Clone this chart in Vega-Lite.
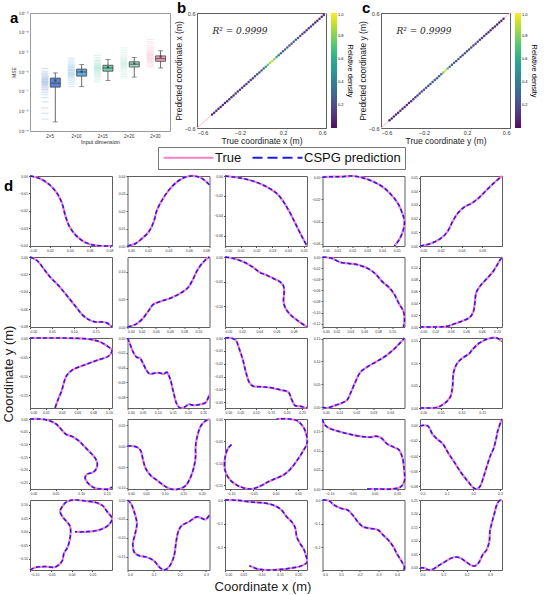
{
  "$schema": "https://vega.github.io/schema/vega-lite/v6.json",
  "padding": {"left": 2, "top": 0, "right": 0, "bottom": 0},
  "background": "white",
  "config": {
    "font": "Liberation Sans",
    "view": {"stroke": "#5f5f5f", "strokeWidth": 1},
    "axis": {"grid": false, "domain": false, "labelColor": "#333", "titleColor": "#222", "tickColor": "#555", "titleFontWeight": "normal"},
    "header": {"titleFontWeight": "normal", "titleColor": "#222"}
  },
  "datasets": {
    "mseStrip": [
      {"dim": "2×5", "mse": 1.5e-6}, {"dim": "2×5", "mse": 1.1e-6}, {"dim": "2×5", "mse": 9e-7}, {"dim": "2×5", "mse": 8e-7}, {"dim": "2×5", "mse": 7e-7}, {"dim": "2×5", "mse": 6.2e-7}, {"dim": "2×5", "mse": 5.5e-7}, {"dim": "2×5", "mse": 5e-7}, {"dim": "2×5", "mse": 4.6e-7}, {"dim": "2×5", "mse": 4.2e-7}, {"dim": "2×5", "mse": 3.9e-7}, {"dim": "2×5", "mse": 3.6e-7}, {"dim": "2×5", "mse": 3.3e-7}, {"dim": "2×5", "mse": 3.1e-7}, {"dim": "2×5", "mse": 2.9e-7}, {"dim": "2×5", "mse": 2.7e-7}, {"dim": "2×5", "mse": 2.5e-7}, {"dim": "2×5", "mse": 2.3e-7}, {"dim": "2×5", "mse": 2.1e-7}, {"dim": "2×5", "mse": 1.9e-7}, {"dim": "2×5", "mse": 1.7e-7}, {"dim": "2×5", "mse": 1.5e-7}, {"dim": "2×5", "mse": 1.3e-7}, {"dim": "2×5", "mse": 1.1e-7}, {"dim": "2×5", "mse": 9e-8}, {"dim": "2×5", "mse": 7e-8}, {"dim": "2×5", "mse": 5e-8}, {"dim": "2×5", "mse": 3e-8}, {"dim": "2×5", "mse": 1.5e-8}, {"dim": "2×5", "mse": 8e-9}, {"dim": "2×5", "mse": 4e-9},
      {"dim": "2×10", "mse": 5e-6}, {"dim": "2×10", "mse": 4e-6}, {"dim": "2×10", "mse": 3.3e-6}, {"dim": "2×10", "mse": 2.8e-6}, {"dim": "2×10", "mse": 2.4e-6}, {"dim": "2×10", "mse": 2.1e-6}, {"dim": "2×10", "mse": 1.9e-6}, {"dim": "2×10", "mse": 1.7e-6}, {"dim": "2×10", "mse": 1.55e-6}, {"dim": "2×10", "mse": 1.4e-6}, {"dim": "2×10", "mse": 1.3e-6}, {"dim": "2×10", "mse": 1.2e-6}, {"dim": "2×10", "mse": 1.1e-6}, {"dim": "2×10", "mse": 1e-6}, {"dim": "2×10", "mse": 9.3e-7}, {"dim": "2×10", "mse": 8.6e-7}, {"dim": "2×10", "mse": 8e-7}, {"dim": "2×10", "mse": 7.4e-7}, {"dim": "2×10", "mse": 6.8e-7}, {"dim": "2×10", "mse": 6.2e-7}, {"dim": "2×10", "mse": 5.6e-7}, {"dim": "2×10", "mse": 5e-7}, {"dim": "2×10", "mse": 4.3e-7}, {"dim": "2×10", "mse": 3.6e-7}, {"dim": "2×10", "mse": 3e-7}, {"dim": "2×10", "mse": 2.4e-7}, {"dim": "2×10", "mse": 1.8e-7},
      {"dim": "2×15", "mse": 7e-6}, {"dim": "2×15", "mse": 5.5e-6}, {"dim": "2×15", "mse": 4.5e-6}, {"dim": "2×15", "mse": 3.8e-6}, {"dim": "2×15", "mse": 3.3e-6}, {"dim": "2×15", "mse": 2.9e-6}, {"dim": "2×15", "mse": 2.6e-6}, {"dim": "2×15", "mse": 2.35e-6}, {"dim": "2×15", "mse": 2.15e-6}, {"dim": "2×15", "mse": 2e-6}, {"dim": "2×15", "mse": 1.85e-6}, {"dim": "2×15", "mse": 1.7e-6}, {"dim": "2×15", "mse": 1.6e-6}, {"dim": "2×15", "mse": 1.5e-6}, {"dim": "2×15", "mse": 1.4e-6}, {"dim": "2×15", "mse": 1.3e-6}, {"dim": "2×15", "mse": 1.2e-6}, {"dim": "2×15", "mse": 1.1e-6}, {"dim": "2×15", "mse": 1e-6}, {"dim": "2×15", "mse": 9e-7}, {"dim": "2×15", "mse": 8e-7}, {"dim": "2×15", "mse": 7e-7}, {"dim": "2×15", "mse": 6e-7}, {"dim": "2×15", "mse": 5e-7}, {"dim": "2×15", "mse": 4e-7}, {"dim": "2×15", "mse": 3.2e-7},
      {"dim": "2×20", "mse": 1.7e-5}, {"dim": "2×20", "mse": 1.3e-5}, {"dim": "2×20", "mse": 1e-5}, {"dim": "2×20", "mse": 8e-6}, {"dim": "2×20", "mse": 6.7e-6}, {"dim": "2×20", "mse": 5.7e-6}, {"dim": "2×20", "mse": 5e-6}, {"dim": "2×20", "mse": 4.4e-6}, {"dim": "2×20", "mse": 4e-6}, {"dim": "2×20", "mse": 3.6e-6}, {"dim": "2×20", "mse": 3.3e-6}, {"dim": "2×20", "mse": 3e-6}, {"dim": "2×20", "mse": 2.8e-6}, {"dim": "2×20", "mse": 2.6e-6}, {"dim": "2×20", "mse": 2.4e-6}, {"dim": "2×20", "mse": 2.2e-6}, {"dim": "2×20", "mse": 2e-6}, {"dim": "2×20", "mse": 1.85e-6}, {"dim": "2×20", "mse": 1.7e-6}, {"dim": "2×20", "mse": 1.5e-6}, {"dim": "2×20", "mse": 1.3e-6}, {"dim": "2×20", "mse": 1.1e-6}, {"dim": "2×20", "mse": 9e-7}, {"dim": "2×20", "mse": 7.5e-7}, {"dim": "2×20", "mse": 6e-7}, {"dim": "2×20", "mse": 5e-7},
      {"dim": "2×30", "mse": 4.5e-5}, {"dim": "2×30", "mse": 3.5e-5}, {"dim": "2×30", "mse": 2.8e-5}, {"dim": "2×30", "mse": 2.2e-5}, {"dim": "2×30", "mse": 1.8e-5}, {"dim": "2×30", "mse": 1.5e-5}, {"dim": "2×30", "mse": 1.3e-5}, {"dim": "2×30", "mse": 1.15e-5}, {"dim": "2×30", "mse": 1e-5}, {"dim": "2×30", "mse": 9e-6}, {"dim": "2×30", "mse": 8.2e-6}, {"dim": "2×30", "mse": 7.5e-6}, {"dim": "2×30", "mse": 6.9e-6}, {"dim": "2×30", "mse": 6.3e-6}, {"dim": "2×30", "mse": 5.8e-6}, {"dim": "2×30", "mse": 5.3e-6}, {"dim": "2×30", "mse": 4.9e-6}, {"dim": "2×30", "mse": 4.5e-6}, {"dim": "2×30", "mse": 4.1e-6}, {"dim": "2×30", "mse": 3.7e-6}, {"dim": "2×30", "mse": 3.3e-6}, {"dim": "2×30", "mse": 2.9e-6}, {"dim": "2×30", "mse": 2.5e-6}, {"dim": "2×30", "mse": 2.1e-6}, {"dim": "2×30", "mse": 1.8e-6}
    ],
    "mseBox": [
      {"dim": "2×5", "lo": 2.9e-9, "q1": 1.7e-7, "med": 2.7e-7, "q3": 4.9e-7, "hi": 9e-7, "mean": 3.7e-7},
      {"dim": "2×10", "lo": 1.8e-7, "q1": 6.2e-7, "med": 1e-6, "q3": 1.4e-6, "hi": 2.4e-6, "mean": 1.05e-6},
      {"dim": "2×15", "lo": 3.7e-7, "q1": 1.1e-6, "med": 1.6e-6, "q3": 2.2e-6, "hi": 4.3e-6, "mean": 1.75e-6},
      {"dim": "2×20", "lo": 5.5e-7, "q1": 1.8e-6, "med": 2.5e-6, "q3": 3.3e-6, "hi": 5.5e-6, "mean": 2.7e-6},
      {"dim": "2×30", "lo": 1.6e-6, "q1": 3.5e-6, "med": 4.8e-6, "q3": 6.6e-6, "hi": 1.2e-5, "mean": 5.9e-6}
    ],
    "diag": [{"t": -0.6}, {"t": 0.6}],
    "fitNote": [{"label": "R² = 0.9999"}],
    "coordX": [
      {"t": -0.46, "d": 0.08}, {"t": -0.44, "d": 0.08}, {"t": -0.42, "d": 0.08}, {"t": -0.4, "d": 0.08}, {"t": -0.38, "d": 0.08}, {"t": -0.36, "d": 0.08}, {"t": -0.34, "d": 0.09}, {"t": -0.32, "d": 0.09}, {"t": -0.3, "d": 0.1},
      {"t": -0.28, "d": 0.12}, {"t": -0.26, "d": 0.12}, {"t": -0.24, "d": 0.12}, {"t": -0.22, "d": 0.13}, {"t": -0.2, "d": 0.13}, {"t": -0.18, "d": 0.13}, {"t": -0.16, "d": 0.14}, {"t": -0.14, "d": 0.14}, {"t": -0.12, "d": 0.15}, {"t": -0.1, "d": 0.15},
      {"t": -0.08, "d": 0.18}, {"t": -0.06, "d": 0.2}, {"t": -0.04, "d": 0.22}, {"t": -0.02, "d": 0.24}, {"t": 0.0, "d": 0.28}, {"t": 0.02, "d": 0.35},
      {"t": 0.04, "d": 0.5}, {"t": 0.06, "d": 0.75}, {"t": 0.08, "d": 0.85}, {"t": 0.1, "d": 0.9}, {"t": 0.12, "d": 0.8}, {"t": 0.14, "d": 0.6}, {"t": 0.16, "d": 0.4},
      {"t": 0.18, "d": 0.32}, {"t": 0.2, "d": 0.3}, {"t": 0.22, "d": 0.3}, {"t": 0.24, "d": 0.28}, {"t": 0.26, "d": 0.27}, {"t": 0.28, "d": 0.26}, {"t": 0.3, "d": 0.25}, {"t": 0.32, "d": 0.24}, {"t": 0.34, "d": 0.23}, {"t": 0.36, "d": 0.22}, {"t": 0.38, "d": 0.2}, {"t": 0.4, "d": 0.18},
      {"t": 0.42, "d": 0.15}, {"t": 0.44, "d": 0.14}, {"t": 0.46, "d": 0.13}, {"t": 0.48, "d": 0.12}, {"t": 0.5, "d": 0.11}, {"t": 0.52, "d": 0.1}, {"t": 0.54, "d": 0.1}, {"t": 0.56, "d": 0.09}, {"t": 0.58, "d": 0.08}
    ],
    "coordY": [
      {"t": -0.52, "d": 0.08}, {"t": -0.5, "d": 0.08}, {"t": -0.48, "d": 0.08}, {"t": -0.46, "d": 0.08}, {"t": -0.44, "d": 0.08}, {"t": -0.42, "d": 0.09}, {"t": -0.4, "d": 0.09}, {"t": -0.38, "d": 0.1}, {"t": -0.36, "d": 0.1}, {"t": -0.34, "d": 0.11}, {"t": -0.32, "d": 0.12}, {"t": -0.3, "d": 0.13},
      {"t": -0.28, "d": 0.16}, {"t": -0.26, "d": 0.17}, {"t": -0.24, "d": 0.18}, {"t": -0.22, "d": 0.19}, {"t": -0.2, "d": 0.2}, {"t": -0.18, "d": 0.21}, {"t": -0.16, "d": 0.22}, {"t": -0.14, "d": 0.23}, {"t": -0.12, "d": 0.24}, {"t": -0.1, "d": 0.25}, {"t": -0.08, "d": 0.27}, {"t": -0.06, "d": 0.3},
      {"t": -0.04, "d": 0.4}, {"t": -0.02, "d": 0.8}, {"t": 0.0, "d": 0.95}, {"t": 0.02, "d": 0.7}, {"t": 0.04, "d": 0.35},
      {"t": 0.06, "d": 0.28}, {"t": 0.08, "d": 0.26}, {"t": 0.1, "d": 0.25}, {"t": 0.12, "d": 0.24}, {"t": 0.14, "d": 0.23}, {"t": 0.16, "d": 0.22}, {"t": 0.18, "d": 0.22}, {"t": 0.2, "d": 0.21}, {"t": 0.22, "d": 0.2}, {"t": 0.24, "d": 0.2}, {"t": 0.26, "d": 0.19}, {"t": 0.28, "d": 0.18}, {"t": 0.3, "d": 0.17},
      {"t": 0.32, "d": 0.14}, {"t": 0.34, "d": 0.13}, {"t": 0.36, "d": 0.12}, {"t": 0.38, "d": 0.12}, {"t": 0.4, "d": 0.11}, {"t": 0.42, "d": 0.1}, {"t": 0.44, "d": 0.1}, {"t": 0.46, "d": 0.09}, {"t": 0.48, "d": 0.09}, {"t": 0.5, "d": 0.08}, {"t": 0.52, "d": 0.08}, {"t": 0.54, "d": 0.08}
    ],
    "paths": [
      {"r": 1, "c": 1, "x": 0, "y": 0}, {"r": 1, "c": 1, "x": 0.0102, "y": -0.0015}, {"r": 1, "c": 1, "x": 0.0197, "y": -0.005}, {"r": 1, "c": 1, "x": 0.0276, "y": -0.0102}, {"r": 1, "c": 1, "x": 0.0324, "y": -0.016}, {"r": 1, "c": 1, "x": 0.0356, "y": -0.0228}, {"r": 1, "c": 1, "x": 0.0394, "y": -0.0286}, {"r": 1, "c": 1, "x": 0.0467, "y": -0.0343}, {"r": 1, "c": 1, "x": 0.0562, "y": -0.0382}, {"r": 1, "c": 1, "x": 0.0673, "y": -0.0398}, {"r": 1, "c": 1, "x": 0.0825, "y": -0.0401},
      {"r": 1, "c": 2, "x": 0, "y": 0}, {"r": 1, "c": 2, "x": 0.0075, "y": 0.0013}, {"r": 1, "c": 2, "x": 0.014, "y": 0.0042}, {"r": 1, "c": 2, "x": 0.0206, "y": 0.008}, {"r": 1, "c": 2, "x": 0.0255, "y": 0.0137}, {"r": 1, "c": 2, "x": 0.0287, "y": 0.0204}, {"r": 1, "c": 2, "x": 0.0336, "y": 0.0261}, {"r": 1, "c": 2, "x": 0.0402, "y": 0.0318}, {"r": 1, "c": 2, "x": 0.0483, "y": 0.0366}, {"r": 1, "c": 2, "x": 0.056, "y": 0.0393}, {"r": 1, "c": 2, "x": 0.062, "y": 0.04}, {"r": 1, "c": 2, "x": 0.068, "y": 0.0397}, {"r": 1, "c": 2, "x": 0.073, "y": 0.0385}, {"r": 1, "c": 2, "x": 0.08, "y": 0.035},
      {"r": 1, "c": 3, "x": 0, "y": 0}, {"r": 1, "c": 3, "x": 0.0096, "y": -0.002}, {"r": 1, "c": 3, "x": 0.0181, "y": -0.0053}, {"r": 1, "c": 3, "x": 0.0266, "y": -0.011}, {"r": 1, "c": 3, "x": 0.033, "y": -0.0177}, {"r": 1, "c": 3, "x": 0.0372, "y": -0.026}, {"r": 1, "c": 3, "x": 0.0415, "y": -0.0377}, {"r": 1, "c": 3, "x": 0.0457, "y": -0.051}, {"r": 1, "c": 3, "x": 0.0489, "y": -0.061}, {"r": 1, "c": 3, "x": 0.0521, "y": -0.0705},
      {"r": 1, "c": 4, "x": 0, "y": 0}, {"r": 1, "c": 4, "x": 0.0064, "y": 0.0004}, {"r": 1, "c": 4, "x": 0.0132, "y": 0.0004}, {"r": 1, "c": 4, "x": 0.02, "y": 0.001}, {"r": 1, "c": 4, "x": 0.0268, "y": -0.0005}, {"r": 1, "c": 4, "x": 0.0336, "y": -0.0037}, {"r": 1, "c": 4, "x": 0.0405, "y": -0.0087}, {"r": 1, "c": 4, "x": 0.0461, "y": -0.0155}, {"r": 1, "c": 4, "x": 0.0507, "y": -0.0234}, {"r": 1, "c": 4, "x": 0.0541, "y": -0.0337}, {"r": 1, "c": 4, "x": 0.0552, "y": -0.0396}, {"r": 1, "c": 4, "x": 0.0545, "y": -0.0469}, {"r": 1, "c": 4, "x": 0.0518, "y": -0.0557}, {"r": 1, "c": 4, "x": 0.0484, "y": -0.0618},
      {"r": 1, "c": 5, "x": 0, "y": 0}, {"r": 1, "c": 5, "x": 0.0098, "y": 0.0017}, {"r": 1, "c": 5, "x": 0.0197, "y": 0.0054}, {"r": 1, "c": 5, "x": 0.0262, "y": 0.0102}, {"r": 1, "c": 5, "x": 0.0312, "y": 0.0176}, {"r": 1, "c": 5, "x": 0.0361, "y": 0.0237}, {"r": 1, "c": 5, "x": 0.0426, "y": 0.0285}, {"r": 1, "c": 5, "x": 0.0492, "y": 0.031}, {"r": 1, "c": 5, "x": 0.0557, "y": 0.0346}, {"r": 1, "c": 5, "x": 0.0623, "y": 0.0395}, {"r": 1, "c": 5, "x": 0.0705, "y": 0.0456}, {"r": 1, "c": 5, "x": 0.079, "y": 0.0512},
      {"r": 2, "c": 1, "x": 0, "y": 0}, {"r": 2, "c": 1, "x": 0.0167, "y": -0.0043}, {"r": 2, "c": 1, "x": 0.0318, "y": -0.014}, {"r": 2, "c": 1, "x": 0.047, "y": -0.0237}, {"r": 2, "c": 1, "x": 0.0659, "y": -0.0334}, {"r": 2, "c": 1, "x": 0.0849, "y": -0.045}, {"r": 2, "c": 1, "x": 0.1038, "y": -0.0567}, {"r": 2, "c": 1, "x": 0.119, "y": -0.0664}, {"r": 2, "c": 1, "x": 0.1342, "y": -0.0722}, {"r": 2, "c": 1, "x": 0.1493, "y": -0.0749}, {"r": 2, "c": 1, "x": 0.1645, "y": -0.0749}, {"r": 2, "c": 1, "x": 0.1759, "y": -0.0761}, {"r": 2, "c": 1, "x": 0.1872, "y": -0.0807},
      {"r": 2, "c": 2, "x": 0, "y": 0}, {"r": 2, "c": 2, "x": 0.0107, "y": 0.0043}, {"r": 2, "c": 2, "x": 0.0201, "y": 0.0134}, {"r": 2, "c": 2, "x": 0.0294, "y": 0.0287}, {"r": 2, "c": 2, "x": 0.0364, "y": 0.0409}, {"r": 2, "c": 2, "x": 0.0481, "y": 0.047}, {"r": 2, "c": 2, "x": 0.0621, "y": 0.0531}, {"r": 2, "c": 2, "x": 0.0761, "y": 0.0622}, {"r": 2, "c": 2, "x": 0.0855, "y": 0.0714}, {"r": 2, "c": 2, "x": 0.0925, "y": 0.0866}, {"r": 2, "c": 2, "x": 0.0995, "y": 0.1049}, {"r": 2, "c": 2, "x": 0.1088, "y": 0.1202}, {"r": 2, "c": 2, "x": 0.1158, "y": 0.1269},
      {"r": 2, "c": 3, "x": 0, "y": 0}, {"r": 2, "c": 3, "x": 0.0094, "y": -0.0027}, {"r": 2, "c": 3, "x": 0.0212, "y": -0.0096}, {"r": 2, "c": 3, "x": 0.0329, "y": -0.0212}, {"r": 2, "c": 3, "x": 0.0408, "y": -0.0315}, {"r": 2, "c": 3, "x": 0.0486, "y": -0.037}, {"r": 2, "c": 3, "x": 0.0565, "y": -0.0438}, {"r": 2, "c": 3, "x": 0.0643, "y": -0.0507}, {"r": 2, "c": 3, "x": 0.0682, "y": -0.0589}, {"r": 2, "c": 3, "x": 0.069, "y": -0.0726}, {"r": 2, "c": 3, "x": 0.0682, "y": -0.0897}, {"r": 2, "c": 3, "x": 0.0702, "y": -0.1034}, {"r": 2, "c": 3, "x": 0.076, "y": -0.1171}, {"r": 2, "c": 3, "x": 0.0858, "y": -0.1308}, {"r": 2, "c": 3, "x": 0.0956, "y": -0.1425},
      {"r": 2, "c": 4, "x": 0, "y": 0}, {"r": 2, "c": 4, "x": 0.0136, "y": -0.0024}, {"r": 2, "c": 4, "x": 0.0257, "y": -0.0097}, {"r": 2, "c": 4, "x": 0.0378, "y": -0.0115}, {"r": 2, "c": 4, "x": 0.0524, "y": -0.0145}, {"r": 2, "c": 4, "x": 0.0669, "y": -0.0218}, {"r": 2, "c": 4, "x": 0.0766, "y": -0.0309}, {"r": 2, "c": 4, "x": 0.0863, "y": -0.0448}, {"r": 2, "c": 4, "x": 0.096, "y": -0.0552}, {"r": 2, "c": 4, "x": 0.1033, "y": -0.0673}, {"r": 2, "c": 4, "x": 0.1106, "y": -0.0854}, {"r": 2, "c": 4, "x": 0.1164, "y": -0.0976}, {"r": 2, "c": 4, "x": 0.1179, "y": -0.1127}, {"r": 2, "c": 4, "x": 0.1164, "y": -0.126},
      {"r": 2, "c": 5, "x": 0, "y": 0}, {"r": 2, "c": 5, "x": 0.0174, "y": 0}, {"r": 2, "c": 5, "x": 0.0348, "y": 0.0011}, {"r": 2, "c": 5, "x": 0.0457, "y": 0.0057}, {"r": 2, "c": 5, "x": 0.0566, "y": 0.0108}, {"r": 2, "c": 5, "x": 0.0653, "y": 0.017}, {"r": 2, "c": 5, "x": 0.0696, "y": 0.0267}, {"r": 2, "c": 5, "x": 0.0713, "y": 0.0409}, {"r": 2, "c": 5, "x": 0.0731, "y": 0.0579}, {"r": 2, "c": 5, "x": 0.0783, "y": 0.0693}, {"r": 2, "c": 5, "x": 0.087, "y": 0.0818}, {"r": 2, "c": 5, "x": 0.0957, "y": 0.0949}, {"r": 2, "c": 5, "x": 0.1022, "y": 0.1091}, {"r": 2, "c": 5, "x": 0.1066, "y": 0.1181},
      {"r": 3, "c": 1, "x": 0, "y": 0}, {"r": 3, "c": 1, "x": 0.017, "y": 0}, {"r": 3, "c": 1, "x": 0.0382, "y": 0}, {"r": 3, "c": 1, "x": 0.0594, "y": -0.0009}, {"r": 3, "c": 1, "x": 0.0763, "y": -0.0035}, {"r": 3, "c": 1, "x": 0.089, "y": -0.0105}, {"r": 3, "c": 1, "x": 0.0996, "y": -0.0237}, {"r": 3, "c": 1, "x": 0.1039, "y": -0.0324}, {"r": 3, "c": 1, "x": 0.0996, "y": -0.0474}, {"r": 3, "c": 1, "x": 0.0848, "y": -0.0588}, {"r": 3, "c": 1, "x": 0.0678, "y": -0.0719}, {"r": 3, "c": 1, "x": 0.053, "y": -0.0851}, {"r": 3, "c": 1, "x": 0.0466, "y": -0.0982}, {"r": 3, "c": 1, "x": 0.0432, "y": -0.1158}, {"r": 3, "c": 1, "x": 0.0403, "y": -0.1377}, {"r": 3, "c": 1, "x": 0.036, "y": -0.1596}, {"r": 3, "c": 1, "x": 0.0318, "y": -0.1842},
      {"r": 3, "c": 2, "x": 0, "y": 0}, {"r": 3, "c": 2, "x": 0.0078, "y": -0.0077}, {"r": 3, "c": 2, "x": 0.0189, "y": -0.0191}, {"r": 3, "c": 2, "x": 0.03, "y": -0.0259}, {"r": 3, "c": 2, "x": 0.0411, "y": -0.0273}, {"r": 3, "c": 2, "x": 0.0522, "y": -0.035}, {"r": 3, "c": 2, "x": 0.0633, "y": -0.0441}, {"r": 3, "c": 2, "x": 0.0744, "y": -0.0487}, {"r": 3, "c": 2, "x": 0.0911, "y": -0.0473}, {"r": 3, "c": 2, "x": 0.1077, "y": -0.0473}, {"r": 3, "c": 2, "x": 0.1188, "y": -0.0487}, {"r": 3, "c": 2, "x": 0.1299, "y": -0.0464}, {"r": 3, "c": 2, "x": 0.141, "y": -0.0555}, {"r": 3, "c": 2, "x": 0.1521, "y": -0.0737}, {"r": 3, "c": 2, "x": 0.1632, "y": -0.0896}, {"r": 3, "c": 2, "x": 0.1743, "y": -0.0946}, {"r": 3, "c": 2, "x": 0.191, "y": -0.0928}, {"r": 3, "c": 2, "x": 0.2021, "y": -0.0896}, {"r": 3, "c": 2, "x": 0.2188, "y": -0.091}, {"r": 3, "c": 2, "x": 0.241, "y": -0.0896}, {"r": 3, "c": 2, "x": 0.2577, "y": -0.0874}, {"r": 3, "c": 2, "x": 0.271, "y": -0.076},
      {"r": 3, "c": 3, "x": 0, "y": 0}, {"r": 3, "c": 3, "x": 0.0187, "y": 0}, {"r": 3, "c": 3, "x": 0.0352, "y": -0.0018}, {"r": 3, "c": 3, "x": 0.0462, "y": -0.0084}, {"r": 3, "c": 3, "x": 0.0572, "y": -0.0163}, {"r": 3, "c": 3, "x": 0.0682, "y": -0.0268}, {"r": 3, "c": 3, "x": 0.0792, "y": -0.0347}, {"r": 3, "c": 3, "x": 0.0902, "y": -0.0373}, {"r": 3, "c": 3, "x": 0.1177, "y": -0.0379}, {"r": 3, "c": 3, "x": 0.1507, "y": -0.0387}, {"r": 3, "c": 3, "x": 0.1837, "y": -0.0405}, {"r": 3, "c": 3, "x": 0.2057, "y": -0.0421}, {"r": 3, "c": 3, "x": 0.2167, "y": -0.0479}, {"r": 3, "c": 3, "x": 0.2277, "y": -0.0526}, {"r": 3, "c": 3, "x": 0.2442, "y": -0.0531}, {"r": 3, "c": 3, "x": 0.2662, "y": -0.0544},
      {"r": 3, "c": 4, "x": 0, "y": 0}, {"r": 3, "c": 4, "x": 0.0024, "y": -0.0015}, {"r": 3, "c": 4, "x": 0.0064, "y": 0.0029}, {"r": 3, "c": 4, "x": 0.0104, "y": 0.008}, {"r": 3, "c": 4, "x": 0.0144, "y": 0.0153}, {"r": 3, "c": 4, "x": 0.0164, "y": 0.0298}, {"r": 3, "c": 4, "x": 0.0194, "y": 0.0553}, {"r": 3, "c": 4, "x": 0.0224, "y": 0.0771}, {"r": 3, "c": 4, "x": 0.0264, "y": 0.088}, {"r": 3, "c": 4, "x": 0.0314, "y": 0.0989}, {"r": 3, "c": 4, "x": 0.0364, "y": 0.1098}, {"r": 3, "c": 4, "x": 0.0414, "y": 0.1243}, {"r": 3, "c": 4, "x": 0.0454, "y": 0.1389}, {"r": 3, "c": 4, "x": 0.0484, "y": 0.1512},
      {"r": 3, "c": 5, "x": 0, "y": 0}, {"r": 3, "c": 5, "x": 0.0183, "y": 0}, {"r": 3, "c": 5, "x": 0.0392, "y": 0.0008}, {"r": 3, "c": 5, "x": 0.0558, "y": 0.0079}, {"r": 3, "c": 5, "x": 0.0725, "y": 0.0238}, {"r": 3, "c": 5, "x": 0.0783, "y": 0.0476}, {"r": 3, "c": 5, "x": 0.0808, "y": 0.0794}, {"r": 3, "c": 5, "x": 0.0891, "y": 0.0993}, {"r": 3, "c": 5, "x": 0.1016, "y": 0.1112}, {"r": 3, "c": 5, "x": 0.1183, "y": 0.1215}, {"r": 3, "c": 5, "x": 0.1266, "y": 0.131}, {"r": 3, "c": 5, "x": 0.1433, "y": 0.1453}, {"r": 3, "c": 5, "x": 0.1641, "y": 0.1548}, {"r": 3, "c": 5, "x": 0.1849, "y": 0.1564}, {"r": 3, "c": 5, "x": 0.1975, "y": 0.1485},
      {"r": 4, "c": 1, "x": 0, "y": 0}, {"r": 4, "c": 1, "x": 0.0192, "y": 0}, {"r": 4, "c": 1, "x": 0.0385, "y": -0.0067}, {"r": 4, "c": 1, "x": 0.0513, "y": -0.02}, {"r": 4, "c": 1, "x": 0.0609, "y": -0.04}, {"r": 4, "c": 1, "x": 0.0705, "y": -0.06}, {"r": 4, "c": 1, "x": 0.0833, "y": -0.0693}, {"r": 4, "c": 1, "x": 0.0962, "y": -0.0867}, {"r": 4, "c": 1, "x": 0.1058, "y": -0.1067}, {"r": 4, "c": 1, "x": 0.1154, "y": -0.1267}, {"r": 4, "c": 1, "x": 0.125, "y": -0.1467}, {"r": 4, "c": 1, "x": 0.1314, "y": -0.1707}, {"r": 4, "c": 1, "x": 0.1301, "y": -0.1933}, {"r": 4, "c": 1, "x": 0.1231, "y": -0.2093}, {"r": 4, "c": 1, "x": 0.1122, "y": -0.216}, {"r": 4, "c": 1, "x": 0.1077, "y": -0.2293}, {"r": 4, "c": 1, "x": 0.1122, "y": -0.2493}, {"r": 4, "c": 1, "x": 0.125, "y": -0.2693}, {"r": 4, "c": 1, "x": 0.1378, "y": -0.2747}, {"r": 4, "c": 1, "x": 0.1538, "y": -0.2747}, {"r": 4, "c": 1, "x": 0.1603, "y": -0.2667},
      {"r": 4, "c": 2, "x": 0, "y": 0}, {"r": 4, "c": 2, "x": 0.0134, "y": 0}, {"r": 4, "c": 2, "x": 0.0268, "y": -0.0032}, {"r": 4, "c": 2, "x": 0.0357, "y": -0.0113}, {"r": 4, "c": 2, "x": 0.042, "y": -0.0339}, {"r": 4, "c": 2, "x": 0.0491, "y": -0.054}, {"r": 4, "c": 2, "x": 0.0625, "y": -0.0702}, {"r": 4, "c": 2, "x": 0.0804, "y": -0.0822}, {"r": 4, "c": 2, "x": 0.0982, "y": -0.0943}, {"r": 4, "c": 2, "x": 0.1161, "y": -0.1024}, {"r": 4, "c": 2, "x": 0.1384, "y": -0.1024}, {"r": 4, "c": 2, "x": 0.1563, "y": -0.0943}, {"r": 4, "c": 2, "x": 0.1697, "y": -0.0742}, {"r": 4, "c": 2, "x": 0.1786, "y": -0.05}, {"r": 4, "c": 2, "x": 0.1831, "y": -0.0258}, {"r": 4, "c": 2, "x": 0.1831, "y": -0.0016}, {"r": 4, "c": 2, "x": 0.1875, "y": 0.0226}, {"r": 4, "c": 2, "x": 0.1964, "y": 0.0467}, {"r": 4, "c": 2, "x": 0.208, "y": 0.0588}, {"r": 4, "c": 2, "x": 0.2205, "y": 0.0645},
      {"r": 4, "c": 3, "x": -0.0977, "y": -0.0577}, {"r": 4, "c": 3, "x": -0.1061, "y": -0.0677}, {"r": 4, "c": 3, "x": -0.1121, "y": -0.0885}, {"r": 4, "c": 3, "x": -0.1121, "y": -0.1154}, {"r": 4, "c": 3, "x": -0.1015, "y": -0.1369}, {"r": 4, "c": 3, "x": -0.081, "y": -0.1523}, {"r": 4, "c": 3, "x": -0.0545, "y": -0.1585}, {"r": 4, "c": 3, "x": -0.0318, "y": -0.1508}, {"r": 4, "c": 3, "x": -0.0182, "y": -0.1431}, {"r": 4, "c": 3, "x": -0.0015, "y": -0.1354}, {"r": 4, "c": 3, "x": 0.0175, "y": -0.1269}, {"r": 4, "c": 3, "x": 0.0326, "y": -0.1138}, {"r": 4, "c": 3, "x": 0.0478, "y": -0.0938}, {"r": 4, "c": 3, "x": 0.0607, "y": -0.0731}, {"r": 4, "c": 3, "x": 0.0697, "y": -0.0554}, {"r": 4, "c": 3, "x": 0.0682, "y": -0.0346}, {"r": 4, "c": 3, "x": 0.0607, "y": -0.0169}, {"r": 4, "c": 3, "x": 0.0478, "y": -0.0038}, {"r": 4, "c": 3, "x": 0.0289, "y": 0}, {"r": 4, "c": 3, "x": 0.0023, "y": 0},
      {"r": 4, "c": 4, "x": -0.1154, "y": 0.1821}, {"r": 4, "c": 4, "x": -0.1108, "y": 0.167}, {"r": 4, "c": 4, "x": -0.1, "y": 0.158}, {"r": 4, "c": 4, "x": -0.0769, "y": 0.1491}, {"r": 4, "c": 4, "x": -0.0462, "y": 0.1402}, {"r": 4, "c": 4, "x": -0.0231, "y": 0.1357}, {"r": 4, "c": 4, "x": -0.0077, "y": 0.1348}, {"r": 4, "c": 4, "x": 0.0038, "y": 0.1375}, {"r": 4, "c": 4, "x": 0.0154, "y": 0.1321}, {"r": 4, "c": 4, "x": 0.0269, "y": 0.1179}, {"r": 4, "c": 4, "x": 0.0423, "y": 0.1089}, {"r": 4, "c": 4, "x": 0.0538, "y": 0.1018}, {"r": 4, "c": 4, "x": 0.0615, "y": 0.0821}, {"r": 4, "c": 4, "x": 0.0654, "y": 0.0509}, {"r": 4, "c": 4, "x": 0.0662, "y": 0.0214}, {"r": 4, "c": 4, "x": 0.0577, "y": 0.0054}, {"r": 4, "c": 4, "x": 0.0385, "y": 0}, {"r": 4, "c": 4, "x": 0.0077, "y": 0}, {"r": 4, "c": 4, "x": -0.0169, "y": 0},
      {"r": 4, "c": 5, "x": 0, "y": 0}, {"r": 4, "c": 5, "x": 0.0291, "y": 0}, {"r": 4, "c": 5, "x": 0.0481, "y": -0.0118}, {"r": 4, "c": 5, "x": 0.0671, "y": -0.0182}, {"r": 4, "c": 5, "x": 0.0861, "y": -0.0241}, {"r": 4, "c": 5, "x": 0.1051, "y": -0.0355}, {"r": 4, "c": 5, "x": 0.1304, "y": -0.0491}, {"r": 4, "c": 5, "x": 0.1557, "y": -0.0628}, {"r": 4, "c": 5, "x": 0.181, "y": -0.0742}, {"r": 4, "c": 5, "x": 0.2, "y": -0.0819}, {"r": 4, "c": 5, "x": 0.2127, "y": -0.0837}, {"r": 4, "c": 5, "x": 0.2253, "y": -0.0801}, {"r": 4, "c": 5, "x": 0.238, "y": -0.0682}, {"r": 4, "c": 5, "x": 0.2507, "y": -0.0537}, {"r": 4, "c": 5, "x": 0.2633, "y": -0.04}, {"r": 4, "c": 5, "x": 0.276, "y": -0.03}, {"r": 4, "c": 5, "x": 0.2848, "y": -0.0182}, {"r": 4, "c": 5, "x": 0.2924, "y": -0.0059}, {"r": 4, "c": 5, "x": 0.3076, "y": 0.0091},
      {"r": 5, "c": 1, "x": -0.1, "y": -0.1413}, {"r": 5, "c": 1, "x": -0.0857, "y": -0.1313}, {"r": 5, "c": 1, "x": -0.0619, "y": -0.1288}, {"r": 5, "c": 1, "x": -0.0421, "y": -0.1313}, {"r": 5, "c": 1, "x": -0.0302, "y": -0.1213}, {"r": 5, "c": 1, "x": -0.0222, "y": -0.1063}, {"r": 5, "c": 1, "x": -0.0183, "y": -0.0788}, {"r": 5, "c": 1, "x": -0.0103, "y": -0.0588}, {"r": 5, "c": 1, "x": -0.0048, "y": -0.0313}, {"r": 5, "c": 1, "x": -0.0024, "y": 0}, {"r": 5, "c": 1, "x": -0.004, "y": 0.0213}, {"r": 5, "c": 1, "x": -0.0119, "y": 0.0375}, {"r": 5, "c": 1, "x": -0.0222, "y": 0.0563}, {"r": 5, "c": 1, "x": -0.0278, "y": 0.075}, {"r": 5, "c": 1, "x": -0.0222, "y": 0.0938}, {"r": 5, "c": 1, "x": -0.0103, "y": 0.1125}, {"r": 5, "c": 1, "x": 0.0095, "y": 0.1175}, {"r": 5, "c": 1, "x": 0.0333, "y": 0.1138}, {"r": 5, "c": 1, "x": 0.0572, "y": 0.1088}, {"r": 5, "c": 1, "x": 0.0746, "y": 0.0963}, {"r": 5, "c": 1, "x": 0.085, "y": 0.075}, {"r": 5, "c": 1, "x": 0.0969, "y": 0.05}, {"r": 5, "c": 1, "x": 0.0889, "y": 0.025}, {"r": 5, "c": 1, "x": 0.0651, "y": 0.0063}, {"r": 5, "c": 1, "x": 0.0333, "y": 0}, {"r": 5, "c": 1, "x": 0.0079, "y": 0},
      {"r": 5, "c": 2, "x": 0, "y": 0}, {"r": 5, "c": 2, "x": 0.0128, "y": -0.0089}, {"r": 5, "c": 2, "x": 0.0256, "y": -0.0313}, {"r": 5, "c": 2, "x": 0.0359, "y": -0.0625}, {"r": 5, "c": 2, "x": 0.0294, "y": -0.0893}, {"r": 5, "c": 2, "x": 0.0205, "y": -0.1161}, {"r": 5, "c": 2, "x": 0.0256, "y": -0.1384}, {"r": 5, "c": 2, "x": 0.0423, "y": -0.1473}, {"r": 5, "c": 2, "x": 0.0743, "y": -0.1518}, {"r": 5, "c": 2, "x": 0.0999, "y": -0.1607}, {"r": 5, "c": 2, "x": 0.1254, "y": -0.1804}, {"r": 5, "c": 2, "x": 0.1408, "y": -0.1857}, {"r": 5, "c": 2, "x": 0.1574, "y": -0.1786}, {"r": 5, "c": 2, "x": 0.1766, "y": -0.1518}, {"r": 5, "c": 2, "x": 0.1869, "y": -0.1071}, {"r": 5, "c": 2, "x": 0.1958, "y": -0.0804}, {"r": 5, "c": 2, "x": 0.2086, "y": -0.067}, {"r": 5, "c": 2, "x": 0.2342, "y": -0.058}, {"r": 5, "c": 2, "x": 0.2662, "y": -0.0446}, {"r": 5, "c": 2, "x": 0.2854, "y": -0.0491}, {"r": 5, "c": 2, "x": 0.2982, "y": -0.0518}, {"r": 5, "c": 2, "x": 0.3136, "y": -0.0402},
      {"r": 5, "c": 3, "x": 0, "y": 0}, {"r": 5, "c": 3, "x": 0.0343, "y": -0.0014}, {"r": 5, "c": 3, "x": 0.0713, "y": -0.0086}, {"r": 5, "c": 3, "x": 0.1083, "y": -0.0129}, {"r": 5, "c": 3, "x": 0.1361, "y": -0.0243}, {"r": 5, "c": 3, "x": 0.1546, "y": -0.0429}, {"r": 5, "c": 3, "x": 0.1685, "y": -0.0714}, {"r": 5, "c": 3, "x": 0.1824, "y": -0.0929}, {"r": 5, "c": 3, "x": 0.1917, "y": -0.1171}, {"r": 5, "c": 3, "x": 0.1963, "y": -0.1571}, {"r": 5, "c": 3, "x": 0.2056, "y": -0.1857}, {"r": 5, "c": 3, "x": 0.2148, "y": -0.2071}, {"r": 5, "c": 3, "x": 0.2213, "y": -0.2357}, {"r": 5, "c": 3, "x": 0.2241, "y": -0.2643}, {"r": 5, "c": 3, "x": 0.2102, "y": -0.2786}, {"r": 5, "c": 3, "x": 0.1824, "y": -0.2886}, {"r": 5, "c": 3, "x": 0.1546, "y": -0.2943}, {"r": 5, "c": 3, "x": 0.1269, "y": -0.2971}, {"r": 5, "c": 3, "x": 0.0898, "y": -0.2929}, {"r": 5, "c": 3, "x": 0.0667, "y": -0.2786},
      {"r": 5, "c": 4, "x": 0, "y": 0}, {"r": 5, "c": 4, "x": 0.0345, "y": -0.0028}, {"r": 5, "c": 4, "x": 0.0618, "y": -0.0211}, {"r": 5, "c": 4, "x": 0.0982, "y": -0.0352}, {"r": 5, "c": 4, "x": 0.1345, "y": -0.0423}, {"r": 5, "c": 4, "x": 0.1618, "y": -0.0634}, {"r": 5, "c": 4, "x": 0.1891, "y": -0.0915}, {"r": 5, "c": 4, "x": 0.2164, "y": -0.1127}, {"r": 5, "c": 4, "x": 0.2527, "y": -0.1197}, {"r": 5, "c": 4, "x": 0.2982, "y": -0.1268}, {"r": 5, "c": 4, "x": 0.3255, "y": -0.1479}, {"r": 5, "c": 4, "x": 0.3527, "y": -0.169}, {"r": 5, "c": 4, "x": 0.38, "y": -0.1972}, {"r": 5, "c": 4, "x": 0.3982, "y": -0.2254}, {"r": 5, "c": 4, "x": 0.4255, "y": -0.2606}, {"r": 5, "c": 4, "x": 0.44, "y": -0.2845}, {"r": 5, "c": 4, "x": 0.4345, "y": -0.2958},
      {"r": 5, "c": 5, "x": 0, "y": 0}, {"r": 5, "c": 5, "x": 0.0186, "y": 0}, {"r": 5, "c": 5, "x": 0.0372, "y": -0.0076}, {"r": 5, "c": 5, "x": 0.0543, "y": -0.0051}, {"r": 5, "c": 5, "x": 0.0829, "y": 0.0102}, {"r": 5, "c": 5, "x": 0.1115, "y": 0.0254}, {"r": 5, "c": 5, "x": 0.133, "y": 0.0356}, {"r": 5, "c": 5, "x": 0.1544, "y": 0.0406}, {"r": 5, "c": 5, "x": 0.1759, "y": 0.0356}, {"r": 5, "c": 5, "x": 0.1973, "y": 0.0229}, {"r": 5, "c": 5, "x": 0.2188, "y": 0.0102}, {"r": 5, "c": 5, "x": 0.2374, "y": 0.0076}, {"r": 5, "c": 5, "x": 0.2545, "y": 0.0229}, {"r": 5, "c": 5, "x": 0.2688, "y": 0.0483}, {"r": 5, "c": 5, "x": 0.286, "y": 0.0673}, {"r": 5, "c": 5, "x": 0.2974, "y": 0.0991}, {"r": 5, "c": 5, "x": 0.3003, "y": 0.1372}, {"r": 5, "c": 5, "x": 0.3089, "y": 0.1689}, {"r": 5, "c": 5, "x": 0.3189, "y": 0.2007}, {"r": 5, "c": 5, "x": 0.3289, "y": 0.2324}, {"r": 5, "c": 5, "x": 0.3403, "y": 0.2489}, {"r": 5, "c": 5, "x": 0.3518, "y": 0.2515}
    ]
  },
  "resolve": {"scale": {"color": "independent"}, "legend": {"color": "independent"}},
  "align": "none",
  "spacing": 0,
  "vconcat": [
    {
      "spacing": 2,
      "resolve": {"scale": {"color": "independent"}, "legend": {"color": "independent"}},
      "hconcat": [
        {
          "width": 140,
          "height": 118,
          "title": {"text": "a", "anchor": "start", "frame": "group", "fontSize": 15, "fontWeight": "bold", "offset": -16, "dx": -20},
          "view": {"stroke": "#9a9a9a"},
          "encoding": {
            "x": {"field": "dim", "type": "nominal", "scale": {"domain": ["2×5", "2×10", "2×15", "2×20", "2×30"], "paddingInner": 0, "paddingOuter": 0.16, "align": 0.83},
              "axis": {"title": "Input dimension", "labelAngle": 0, "labelFontSize": 4.5, "titleFontSize": 5.5, "ticks": false, "labelPadding": 2, "titlePadding": 2}}
          },
          "layer": [
            {
              "data": {"name": "mseStrip"},
              "mark": {"type": "tick", "opacity": 0.28, "thickness": 1, "size": 7},
              "encoding": {
                "xOffset": {"datum": "strip", "scale": {"domain": ["strip", "box"], "paddingInner": 0, "paddingOuter": 0.27}},
                "y": {"field": "mse", "type": "quantitative", "scale": {"type": "log", "domain": [1e-9, 1e-3], "nice": false},
                  "axis": {"title": "MSE", "values": [1e-9, 1e-8, 1e-7, 1e-6, 1e-5, 1e-4, 1e-3], "labelExpr": "'10' + ['⁰','⁻¹','⁻²','⁻³','⁻⁴','⁻⁵','⁻⁶','⁻⁷','⁻⁸','⁻⁹'][round(-log(datum.value) / LN10)]", "labelFont": "DejaVu Sans", "labelFontSize": 4.5, "titleFontSize": 5, "ticks": false, "labelPadding": 2, "titlePadding": 2}},
                "color": {"field": "dim", "type": "nominal", "scale": {"domain": ["2×5", "2×10", "2×15", "2×20", "2×30"], "range": ["#5b87d2", "#68a9de", "#74d1b2", "#9fdcc3", "#f0a0bb"]}, "legend": null}
              }
            },
            {
              "data": {"name": "mseBox"},
              "mark": {"type": "rule", "color": "#444", "strokeWidth": 0.8},
              "encoding": {"xOffset": {"datum": "box"}, "y": {"field": "lo", "type": "quantitative"}, "y2": {"field": "hi"}}
            },
            {
              "data": {"name": "mseBox"},
              "mark": {"type": "bar", "width": 10, "stroke": "#444", "strokeWidth": 0.8},
              "encoding": {"xOffset": {"datum": "box"}, "y": {"field": "q1", "type": "quantitative"}, "y2": {"field": "q3"},
                "color": {"field": "dim", "type": "nominal", "legend": null}}
            },
            {
              "data": {"name": "mseBox"},
              "mark": {"type": "tick", "color": "#444", "size": 5, "thickness": 0.8},
              "encoding": {"xOffset": {"datum": "box"}, "y": {"field": "lo", "type": "quantitative"}}
            },
            {
              "data": {"name": "mseBox"},
              "mark": {"type": "tick", "color": "#444", "size": 5, "thickness": 0.8},
              "encoding": {"xOffset": {"datum": "box"}, "y": {"field": "hi", "type": "quantitative"}}
            },
            {
              "data": {"name": "mseBox"},
              "mark": {"type": "tick", "color": "#333", "size": 10, "thickness": 1},
              "encoding": {"xOffset": {"datum": "box"}, "y": {"field": "med", "type": "quantitative"}}
            },
            {
              "data": {"name": "mseBox"},
              "mark": {"type": "point", "shape": "square", "filled": true, "color": "#333", "size": 5},
              "encoding": {"xOffset": {"datum": "box"}, "y": {"field": "mean", "type": "quantitative"}}
            }
          ]
        },
        {
          "width": 129,
          "height": 115,
          "title": {"text": "b", "anchor": "start", "frame": "group", "fontSize": 15, "fontWeight": "bold", "offset": -5, "dx": -20},
          "layer": [
            {"data": {"name": "diag"}, "mark": {"type": "line", "color": "#ffb3c8", "strokeWidth": 1},
              "encoding": {
                "x": {"field": "t", "type": "quantitative", "scale": {"domain": [-0.6, 0.6], "nice": false},
                  "axis": {"title": "True coordinate x (m)", "values": [-0.6, -0.4, -0.2, 0, 0.2, 0.4, 0.6], "format": ".1f", "labelOverlap": false, "labelFontSize": 5.5, "titleFontSize": 8.5, "ticks": false, "labelPadding": 2, "titlePadding": 1}},
                "y": {"field": "t", "type": "quantitative", "scale": {"domain": [-0.6, 0.6], "nice": false},
                  "axis": {"title": "Predicted coordinate x (m)", "values": [-0.6, -0.4, -0.2, 0, 0.2, 0.4, 0.6], "format": ".1f", "labelOverlap": false, "labelFontSize": 5.5, "titleFontSize": 8.5, "ticks": false, "labelPadding": 2, "titlePadding": 1}}
              }},
            {"data": {"name": "coordX"}, "mark": {"type": "circle", "size": 6, "opacity": 0.95},
              "encoding": {
                "x": {"field": "t", "type": "quantitative"},
                "y": {"field": "t", "type": "quantitative"},
                "color": {"field": "d", "type": "quantitative", "scale": {"scheme": "viridis", "domain": [0, 1]},
                  "legend": {"title": "Relative density", "orient": "right", "gradientLength": 115, "gradientThickness": 6, "values": [0.2, 0.4, 0.6, 0.8, 1.0], "format": ".1f", "labelFontSize": 4, "titleFontSize": 7.5, "titleFontWeight": "normal", "titleOrient": "right", "titleAngle": 270, "titleAnchor": "middle", "titlePadding": 2, "offset": 5, "labelOffset": 1}}}},
            {"data": {"name": "fitNote"}, "mark": {"type": "text", "font": "DejaVu Serif", "fontSize": 9, "fontStyle": "italic", "color": "#222"},
              "encoding": {"x": {"datum": -0.2, "type": "quantitative"}, "y": {"datum": 0.41, "type": "quantitative"}, "text": {"field": "label", "type": "nominal"}}}
          ]
        },
        {
          "width": 129,
          "height": 115,
          "title": {"text": "c", "anchor": "start", "frame": "group", "fontSize": 15, "fontWeight": "bold", "offset": -5, "dx": -19},
          "layer": [
            {"data": {"name": "diag"}, "mark": {"type": "line", "color": "#ffb3c8", "strokeWidth": 1},
              "encoding": {
                "x": {"field": "t", "type": "quantitative", "scale": {"domain": [-0.6, 0.6], "nice": false},
                  "axis": {"title": "True coordinate y (m)", "values": [-0.6, -0.4, -0.2, 0, 0.2, 0.4, 0.6], "format": ".1f", "labelOverlap": false, "labelFontSize": 5.5, "titleFontSize": 8.5, "ticks": false, "labelPadding": 2, "titlePadding": 1}},
                "y": {"field": "t", "type": "quantitative", "scale": {"domain": [-0.6, 0.6], "nice": false},
                  "axis": {"title": "Predicted coordinate y (m)", "values": [-0.6, -0.4, -0.2, 0, 0.2, 0.4, 0.6], "format": ".1f", "labelOverlap": false, "labelFontSize": 5.5, "titleFontSize": 8.5, "ticks": false, "labelPadding": 2, "titlePadding": 1}}
              }},
            {"data": {"name": "coordY"}, "mark": {"type": "circle", "size": 6, "opacity": 0.95},
              "encoding": {
                "x": {"field": "t", "type": "quantitative"},
                "y": {"field": "t", "type": "quantitative"},
                "color": {"field": "d", "type": "quantitative", "scale": {"scheme": "viridis", "domain": [0, 1]},
                  "legend": {"title": "Relative density", "orient": "right", "gradientLength": 115, "gradientThickness": 6, "values": [0.2, 0.4, 0.6, 0.8, 1.0], "format": ".1f", "labelFontSize": 4, "titleFontSize": 7.5, "titleFontWeight": "normal", "titleOrient": "right", "titleAngle": 270, "titleAnchor": "middle", "titlePadding": 2, "offset": 5, "labelOffset": 1}}}},
            {"data": {"name": "fitNote"}, "mark": {"type": "text", "font": "DejaVu Serif", "fontSize": 9, "fontStyle": "italic", "color": "#222"},
              "encoding": {"x": {"datum": -0.2, "type": "quantitative"}, "y": {"datum": 0.41, "type": "quantitative"}, "text": {"field": "label", "type": "nominal"}}}
          ]
        }
      ]
    },
    {
      "data": {"name": "paths"},
      "title": {"text": "d", "anchor": "start", "frame": "group", "fontSize": 15, "fontWeight": "bold", "offset": -47, "dx": -26},
      "bounds": "flush",
      "facet": {
        "row": {"field": "r", "type": "ordinal", "title": "Coordinate y (m)", "header": {"labels": false, "titleFontSize": 13, "titlePadding": 4}},
        "column": {"field": "c", "type": "ordinal", "title": "Coordinate x (m)", "header": {"labels": false, "titleOrient": "bottom", "titleFontSize": 13, "titlePadding": 1}}
      },
      "spacing": {"row": 11, "column": 15.5},
      "resolve": {"scale": {"x": "independent", "y": "independent"}},
      "spec": {
        "width": 82,
        "height": 70,
        "encoding": {
          "x": {"field": "x", "type": "quantitative", "scale": {"zero": false, "nice": false}, "axis": {"title": null, "tickCount": 4, "labelFontSize": 3.5, "tickSize": 1.5, "labelPadding": 1}},
          "y": {"field": "y", "type": "quantitative", "scale": {"zero": false, "nice": false}, "axis": {"title": null, "tickCount": 4, "labelFontSize": 3.5, "tickSize": 1.5, "labelPadding": 1}},
          "order": {"value": null}
        },
        "layer": [
          {
            "mark": {"type": "line", "strokeWidth": 2.2, "interpolate": "catmull-rom"},
            "encoding": {
              "color": {"datum": "True", "type": "nominal", "scale": {"domain": ["True", "CSPG prediction"], "range": ["#ff7fc4", "#1c1ce8"]},
                "legend": {"title": null, "orient": "none", "legendX": 128, "legendY": -29, "direction": "horizontal", "symbolType": "M-1,0H9", "symbolSize": 100, "symbolStrokeWidth": 2, "labelFontSize": 13, "labelColor": "#111", "labelOffset": 40, "columnPadding": 6, "strokeColor": "#777", "padding": 4,
                  "encode": {"symbols": {"update": {"strokeDash": {"signal": "datum.value === 'True' ? [1, 0] : [10, 5]"}}}}}}
            }
          },
          {
            "mark": {"type": "line", "strokeWidth": 1.5, "strokeDash": [4, 2.5], "interpolate": "catmull-rom"},
            "encoding": {"color": {"datum": "CSPG prediction", "type": "nominal"}}
          }
        ]
      }
    }
  ]
}
